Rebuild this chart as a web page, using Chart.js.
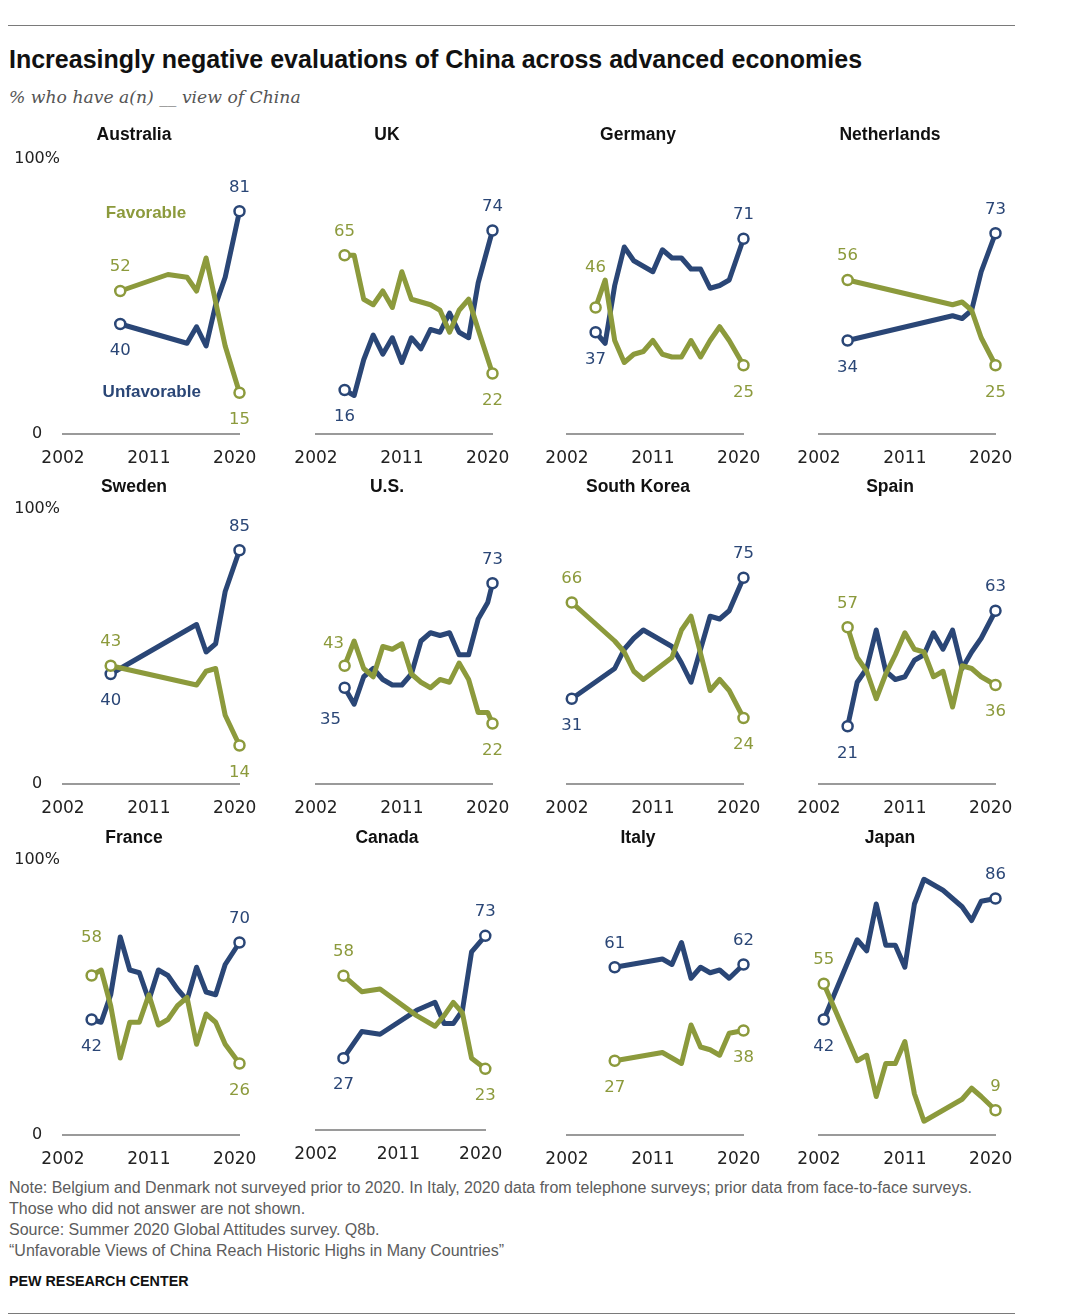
<!DOCTYPE html>
<html>
<head>
<meta charset="utf-8">
<script src="https://cdn.jsdelivr.net/npm/chart.js@4.4.1/dist/chart.umd.min.js"></script>
<style>
  html, body { margin: 0; padding: 0; background: #fff; }
  body { width: 1080px; height: 1316px; position: relative; overflow: hidden; font-family: "Liberation Sans", Arial, sans-serif; }
  .abs { position: absolute; white-space: nowrap; }
  .rule { position: absolute; left: 8px; width: 1007px; height: 1px; background: #7a7a7a; }
  #title { left: 9px; top: 45px; font-size: 25px; line-height: 29px; font-weight: bold; color: #111; }
  #subtitle { left: 9px; top: 86px; font-size: 17.2px; line-height: 22px; font-style: italic; font-family: "DejaVu Serif", serif; color: #555; }
  .ptitle { font-size: 17.5px; line-height: 20px; font-weight: bold; color: #111; transform: translate(-50%, -50%); }
  .note { left: 9px; font-size: 16px; line-height: 21px; color: #5c5c5c; }
  #pew { left: 9px; top: 1271px; font-size: 14.3px; line-height: 20px; font-weight: bold; color: #111; }
  canvas.panel { position: absolute; }
</style>
</head>
<body>
<div class="rule" style="top:25px"></div>
<div id="title" class="abs">Increasingly negative evaluations of China across advanced economies</div>
<div id="subtitle" class="abs">% who have a(n) __ view of China</div>

<div class="abs note" style="top:1177px">Note: Belgium and Denmark not surveyed prior to 2020. In Italy, 2020 data from telephone surveys; prior data from face-to-face surveys.</div>
<div class="abs note" style="top:1198px">Those who did not answer are not shown.</div>
<div class="abs note" style="top:1219px">Source: Summer 2020 Global Attitudes survey. Q8b.</div>
<div class="abs note" style="top:1240px">“Unfavorable Views of China Reach Historic Highs in Many Countries”</div>
<div id="pew" class="abs">PEW RESEARCH CENTER</div>
<div class="rule" style="top:1313px"></div>

<script>
// ---------------- DATA ----------------
// x = survey timing (2002 and summer-2020 surveys sit mid-year)
const X_TICKS = [2002, 2011, 2020];
const Y_TICKS = [0, 100];

const years_Australia = [2008, 2013, 2015, 2016, 2017, 2018, 2019, 2020.5];
const fav_Australia   = [52, 58, 57, 52, 64, 48, 32, 15];
const unfav_Australia = [40, 35, 33, 39, 32, 47, 57, 81];

const years_UK = [2005, 2006, 2007, 2008, 2009, 2010, 2011, 2012, 2013, 2014, 2015, 2016, 2017, 2018, 2019, 2020.5];
const fav_UK   = [65, 65, 49, 47, 52, 46, 59, 49, 48, 47, 45, 37, 45, 49, 38, 22];
const unfav_UK = [16, 14, 27, 36, 29, 35, 26, 35, 31, 38, 37, 44, 37, 35, 55, 74];

const years_Germany = [2005, 2006, 2007, 2008, 2009, 2010, 2011, 2012, 2013, 2014, 2015, 2016, 2017, 2018, 2019, 2020.5];
const fav_Germany   = [46, 56, 34, 26, 29, 30, 34, 29, 28, 28, 34, 28, 34, 39, 34, 25];
const unfav_Germany = [37, 33, 54, 68, 63, 61, 59, 67, 64, 64, 60, 60, 53, 54, 56, 71];

const years_Netherlands = [2005, 2016, 2017, 2018, 2019, 2020.5];
const fav_Netherlands   = [56, 47, 48, 45, 35, 25];
const unfav_Netherlands = [34, 43, 42, 45, 59, 73];

const years_Sweden = [2007, 2016, 2017, 2018, 2019, 2020.5];
const fav_Sweden   = [43, 36, 41, 42, 25, 14];
const unfav_Sweden = [40, 58, 48, 51, 70, 85];

const years_US = [2005, 2006, 2007, 2008, 2009, 2010, 2011, 2012, 2013, 2014, 2015, 2016, 2017, 2018, 2019, 2020, 2020.5];
const fav_US   = [43, 52, 42, 39, 50, 49, 51, 40, 37, 35, 38, 37, 44, 38, 26, 26, 22];
const unfav_US = [35, 29, 39, 42, 38, 36, 36, 40, 52, 55, 54, 55, 47, 47, 60, 66, 73];

const years_SouthKorea = [2002.5, 2007, 2008, 2009, 2010, 2013, 2014, 2015, 2017, 2018, 2019, 2020.5];
const fav_SouthKorea   = [66, 52, 48, 41, 38, 46, 56, 61, 34, 38, 34, 24];
const unfav_SouthKorea = [31, 42, 49, 53, 56, 50, 44, 37, 61, 60, 63, 75];

const years_Spain = [2005, 2006, 2007, 2008, 2009, 2010, 2011, 2012, 2013, 2014, 2015, 2016, 2017, 2018, 2019, 2020.5];
const fav_Spain   = [57, 46, 41, 31, 40, 47, 55, 49, 48, 39, 41, 28, 43, 42, 39, 36];
const unfav_Spain = [21, 37, 42, 56, 41, 38, 39, 45, 47, 55, 49, 56, 42, 48, 53, 63];

const years_France = [2005, 2006, 2007, 2008, 2009, 2010, 2011, 2012, 2013, 2014, 2015, 2016, 2017, 2018, 2019, 2020.5];
const fav_France   = [58, 60, 47, 28, 41, 41, 51, 40, 42, 47, 50, 33, 44, 41, 33, 26];
const unfav_France = [42, 41, 51, 72, 60, 59, 49, 60, 58, 53, 49, 61, 52, 51, 62, 70];

const years_Canada = [2005, 2007, 2009, 2013, 2015, 2016, 2017, 2018, 2019, 2020.5];
const fav_Canada   = [58, 52, 53, 43, 39, 43, 48, 44, 27, 23];
const unfav_Canada = [27, 37, 36, 45, 48, 40, 40, 45, 67, 73];

const years_Italy = [2007, 2012, 2013, 2014, 2015, 2016, 2017, 2018, 2019, 2020.5];
const fav_Italy   = [27, 30, 28, 26, 40, 32, 31, 29, 37, 38];
const unfav_Italy = [61, 64, 62, 70, 57, 61, 59, 60, 57, 62];

const years_Japan = [2002.5, 2006, 2007, 2008, 2009, 2010, 2011, 2012, 2013, 2014, 2015, 2016, 2017, 2018, 2019, 2020.5];
const fav_Japan   = [55, 27, 29, 14, 26, 26, 34, 15, 5, 7, 9, 11, 13, 17, 14, 9];
const unfav_Japan = [42, 71, 67, 84, 69, 69, 61, 84, 93, 91, 89, 86, 83, 78, 85, 86];

const SERIES_NAMES = ['Favorable', 'Unfavorable'];

// ---------------- LAYOUT / STYLE ----------------
const COLORS = { fav: '#8c9a3c', unfav: '#2a4676' };
const COL_X = [63, 316, 567, 819];      // pixel of the 2002 end of each column's axis
const ROW_ZERO = [434, 784, 1135];      // pixel of 0% in each row
const ROW_TITLE = [134, 486, 837];

const PANELS = [
  { name: 'Australia',   row: 0, col: 0, d: [years_Australia, fav_Australia, unfav_Australia], names: true },
  { name: 'UK',          row: 0, col: 1, d: [years_UK, fav_UK, unfav_UK] },
  { name: 'Germany',     row: 0, col: 2, d: [years_Germany, fav_Germany, unfav_Germany], off: { favStart: [0, -41] } },
  { name: 'Netherlands', row: 0, col: 3, d: [years_Netherlands, fav_Netherlands, unfav_Netherlands] },
  { name: 'Sweden',      row: 1, col: 0, d: [years_Sweden, fav_Sweden, unfav_Sweden] },
  { name: 'U.S.',        row: 1, col: 1, d: [years_US, fav_US, unfav_US], off: { favStart: [-11, -23], unfavStart: [-14, 31] } },
  { name: 'South Korea', row: 1, col: 2, d: [years_SouthKorea, fav_SouthKorea, unfav_SouthKorea] },
  { name: 'Spain',       row: 1, col: 3, d: [years_Spain, fav_Spain, unfav_Spain] },
  { name: 'France',      row: 2, col: 0, d: [years_France, fav_France, unfav_France], off: { favStart: [0, -39] } },
  { name: 'Canada',      row: 2, col: 1, d: [years_Canada, fav_Canada, unfav_Canada], geom: { zero: 1130, w: 169.3, h: 266 } },
  { name: 'Italy',       row: 2, col: 2, d: [years_Italy, fav_Italy, unfav_Italy] },
  { name: 'Japan',       row: 2, col: 3, d: [years_Japan, fav_Japan, unfav_Japan], off: { favEnd: [0, -25] } },
];

const endLabels = {
  id: 'endLabels',
  afterDatasetsDraw(chart, args, opts) {
    const ctx = chart.ctx;
    const dsets = chart.data.datasets;
    ctx.save();
    ctx.textAlign = 'center';
    ctx.textBaseline = 'middle';
    dsets.forEach((ds, i) => {
      const meta = chart.getDatasetMeta(i);
      const other = dsets[1 - i];
      const n = ds.data.length;
      [['Start', 0, 0], ['End', n - 1, other.data.length - 1]].forEach(([which, idx, oidx]) => {
        const el = meta.data[idx];
        const v = ds.data[idx].y;
        const ov = other.data[oidx].y;
        let off = (opts.offsets || {})[ds.key + which];
        if (!off) off = v >= ov ? [0, -25] : [0, 26];
        ctx.font = '16.5px "DejaVu Sans"';
        ctx.fillStyle = ds.borderColor;
        ctx.fillText(String(v), el.x + off[0], el.y + off[1] + 1);
      });
    });
    (opts.names || []).forEach(nm => {
      ctx.font = 'bold 17px "Liberation Sans"';
      ctx.fillStyle = nm.color;
      ctx.fillText(nm.text, chart.scales.x.getPixelForValue(nm.x), chart.scales.y.getPixelForValue(nm.y) + 1);
    });
    ctx.restore();
  }
};

function pts(xs, ys) { return xs.map((x, i) => ({ x: x, y: ys[i] })); }

PANELS.forEach(p => {
  const g = Object.assign({ ax0: COL_X[p.col], zero: ROW_ZERO[p.row], w: 176.5, h: 275 }, p.geom || {});
  const CW = 260, LEFT = 50, TOP = 20, BOTTOM = 40;
  const cv = document.createElement('canvas');
  cv.className = 'panel';
  cv.width = CW; cv.height = g.h + TOP + BOTTOM;
  cv.style.left = (g.ax0 - LEFT) + 'px';
  cv.style.top = (g.zero - g.h - TOP) + 'px';
  cv.style.width = CW + 'px'; cv.style.height = (g.h + TOP + BOTTOM) + 'px';
  document.body.appendChild(cv);

  const t = document.createElement('div');
  t.className = 'abs ptitle';
  t.textContent = p.name;
  t.style.left = (g.ax0 + 71) + 'px';
  t.style.top = ROW_TITLE[p.row] + 'px';
  document.body.appendChild(t);

  const [xs, fav, unfav] = p.d;
  const mk = (key, label, ys, color) => ({
    key: key, label: label, data: pts(xs, ys),
    borderColor: color, backgroundColor: color,
    borderWidth: 5, borderJoinStyle: 'round', borderCapStyle: 'round',
    tension: 0, clip: false, fill: false,
    pointRadius: c => (c.dataIndex === 0 || c.dataIndex === ys.length - 1) ? 5 : 0,
    pointHoverRadius: c => (c.dataIndex === 0 || c.dataIndex === ys.length - 1) ? 5 : 0,
    pointBorderWidth: 2.5, pointBackgroundColor: '#fff', pointBorderColor: color
  });

  new Chart(cv, {
    type: 'line',
    data: { datasets: [mk('fav', SERIES_NAMES[0], fav, COLORS.fav), mk('unfav', SERIES_NAMES[1], unfav, COLORS.unfav)] },
    plugins: [endLabels],
    options: {
      responsive: false, animation: false, devicePixelRatio: 1, events: [],
      layout: { padding: { left: 0, top: TOP, right: CW - LEFT - g.w, bottom: 0 } },
      plugins: {
        legend: { display: false }, tooltip: { enabled: false }, title: { display: false },
        endLabels: {
          offsets: p.off || {},
          names: p.names ? [
            { text: SERIES_NAMES[0], x: 2010.7, y: 80.5, color: COLORS.fav },
            { text: SERIES_NAMES[1], x: 2011.3, y: 15.6, color: COLORS.unfav }
          ] : []
        }
      },
      scales: {
        x: {
          type: 'linear', min: 2002, max: 2020.5,
          grid: { display: false, drawTicks: false },
          border: { display: true, color: '#9a9a9a', width: 2 },
          afterBuildTicks: s => { s.ticks = X_TICKS.map(v => ({ value: v })); },
          afterFit: s => { s.height = BOTTOM; s.paddingLeft = 0; s.paddingRight = 0; },
          ticks: {
            autoSkip: false, maxRotation: 0, padding: 14, color: '#222',
            font: { family: '"DejaVu Sans"', size: 17 },
            callback: v => String(v)
          }
        },
        y: {
          min: 0, max: 100,
          grid: { display: false, drawTicks: false },
          border: { display: false },
          afterBuildTicks: s => { s.ticks = Y_TICKS.map(v => ({ value: v })); },
          afterFit: s => { s.width = LEFT; s.paddingTop = 0; s.paddingBottom = 0; },
          ticks: {
            display: p.col === 0, crossAlign: 'center', padding: 3, color: '#222',
            font: { family: '"DejaVu Sans"', size: 16 },
            callback: v => v === 100 ? '100%' : String(v)
          }
        }
      }
    }
  });
});
</script>
</body>
</html>
